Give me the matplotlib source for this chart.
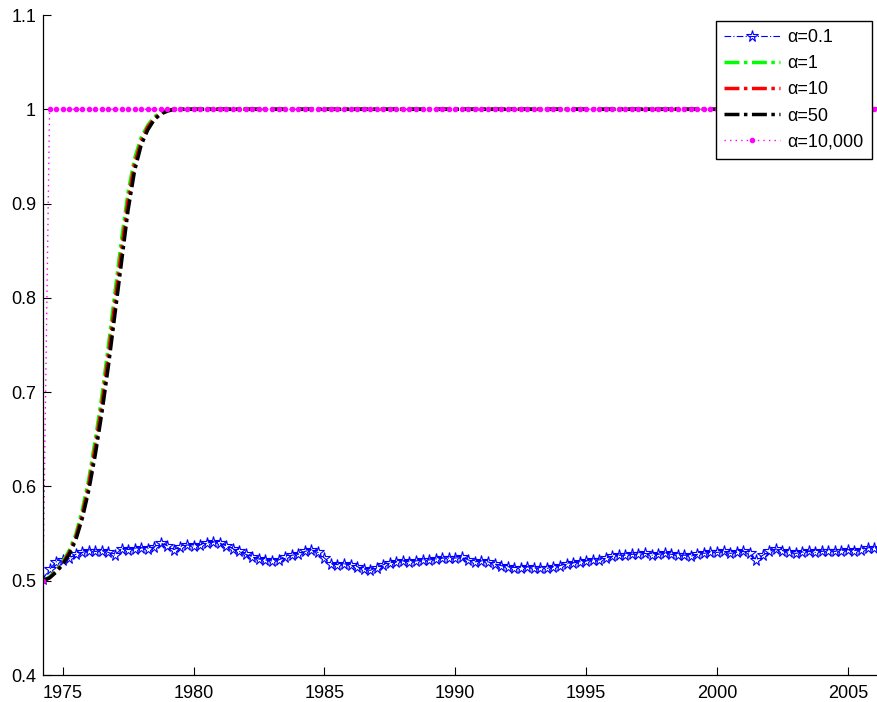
import matplotlib
matplotlib.use("Agg")
import matplotlib.pyplot as plt
import numpy as np

plt.rcParams['font.family'] = ['Liberation Sans', 'DejaVu Sans']

# Quarterly time axis 1974.25 .. 2006.25
t_start, t_step, n_pts = 1974.25, 0.25, 129

alpha_01 = [
    0.502, 0.512, 0.520,
    0.522, 0.524, 0.528, 0.530,
    0.532, 0.531, 0.532, 0.530,
    0.527, 0.534, 0.533, 0.534,
    0.535, 0.534, 0.536, 0.540,
    0.537, 0.533, 0.536, 0.538,
    0.537, 0.538, 0.540, 0.541,
    0.540, 0.537, 0.534, 0.531,
    0.528, 0.525, 0.523, 0.522,
    0.521, 0.522, 0.525, 0.527,
    0.528, 0.531, 0.533, 0.530,
    0.524, 0.518, 0.517, 0.518,
    0.517, 0.515, 0.512, 0.511,
    0.514, 0.517, 0.519, 0.520,
    0.521, 0.520, 0.521, 0.522,
    0.522, 0.523, 0.524, 0.524,
    0.524, 0.525, 0.522, 0.520,
    0.521, 0.520, 0.518, 0.516,
    0.515, 0.514, 0.514, 0.515,
    0.513, 0.514, 0.513, 0.515,
    0.516, 0.518, 0.519, 0.520,
    0.521, 0.522, 0.522, 0.524,
    0.526, 0.527, 0.527, 0.528,
    0.528, 0.529, 0.527, 0.528,
    0.529, 0.528, 0.527, 0.527,
    0.526, 0.528, 0.529, 0.530,
    0.530, 0.531, 0.529, 0.530,
    0.531, 0.529, 0.522, 0.527,
    0.531, 0.534, 0.532, 0.530,
    0.529, 0.530, 0.531, 0.530,
    0.531, 0.532, 0.531, 0.532,
    0.533, 0.532, 0.533, 0.535,
    0.535, 0.534,
]

alpha_1_early = [0.500, 0.504, 0.511, 0.520, 0.532, 0.549, 0.575, 0.608, 0.650,
                 0.696, 0.750, 0.806, 0.862, 0.912, 0.948, 0.970, 0.983, 0.992,
                 0.997, 0.999, 1.000, 1.000]
alpha_10_early = [0.500, 0.503, 0.510, 0.518, 0.530, 0.546, 0.570, 0.602, 0.642,
                  0.687, 0.739, 0.795, 0.850, 0.903, 0.942, 0.966, 0.981, 0.990,
                  0.996, 0.999, 1.000, 1.000]
alpha_50_early = [0.500, 0.503, 0.509, 0.517, 0.528, 0.543, 0.566, 0.596, 0.634,
                  0.678, 0.728, 0.783, 0.838, 0.893, 0.935, 0.962, 0.978, 0.989,
                  0.995, 0.998, 1.000, 1.000]
alpha_10000_early = [0.500, 1.000]
plateau = 1.0

xticks = [1975, 1980, 1985, 1990, 1995, 2000, 2005]
yticks = [0.4, 0.5, 0.6, 0.7, 0.8, 0.9, 1.0, 1.1]
ytick_labels = ['0.4', '0.5', '0.6', '0.7', '0.8', '0.9', '1', '1.1']
labels = ['α=0.1', 'α=1', 'α=10', 'α=50', 'α=10,000']

t = t_start + t_step * np.arange(n_pts)

def full(early):
    return np.array(list(early) + [plateau] * (n_pts - len(early)))

fig = plt.figure(figsize=(8.78, 7.02), dpi=100)
ax = fig.add_axes([43 / 878, 1 - 675 / 702, 1 - 43 / 878, (675 - 15) / 702])

dd = (0, (4.3, 1.3, 1.0, 1.3))
ax.plot(t, alpha_01, color='#0000ff', lw=0.8, linestyle=(0, (6, 2, 1, 2)),
        marker='*', markersize=8.5, markerfacecolor='none', markeredgecolor='#0000ff',
        markeredgewidth=0.8, label=labels[0])
ax.plot(t, full(alpha_1_early), color='#00ff00', lw=2.5, linestyle=dd, label=labels[1])
ax.plot(t, full(alpha_10_early), color='#ff0000', lw=2.5, linestyle=dd, label=labels[2])
ax.plot(t, full(alpha_50_early), color='#000000', lw=2.5, linestyle=dd, label=labels[3])
ax.plot(t, full(alpha_10000_early), color='#ff00ff', lw=1.0, linestyle=(0, (1, 3)),
        marker='.', markersize=6, label=labels[4])

ax.set_xlim(1974.25, 2006.15)
ax.set_ylim(0.4, 1.1)
ax.set_xticks(xticks)
ax.set_yticks(yticks)
ax.set_yticklabels(ytick_labels)
ax.tick_params(direction='in', length=5.5, width=0.8, labelsize=13, pad=5)
ax.tick_params(axis='x', pad=7)
ax.spines['top'].set_visible(False)
ax.spines['right'].set_visible(False)
for s in ['left', 'bottom']:
    ax.spines[s].set_linewidth(0.9)

leg = ax.legend(loc='upper right', bbox_to_anchor=(1.0, 1.0),
                fontsize=13, frameon=True, fancybox=False, edgecolor='black',
                framealpha=1, handlelength=3.1, handletextpad=0.4,
                labelspacing=0.5, borderaxespad=0.35, borderpad=0.45)
leg.get_frame().set_linewidth(1.0)

fig.savefig('out.png', dpi=100)
